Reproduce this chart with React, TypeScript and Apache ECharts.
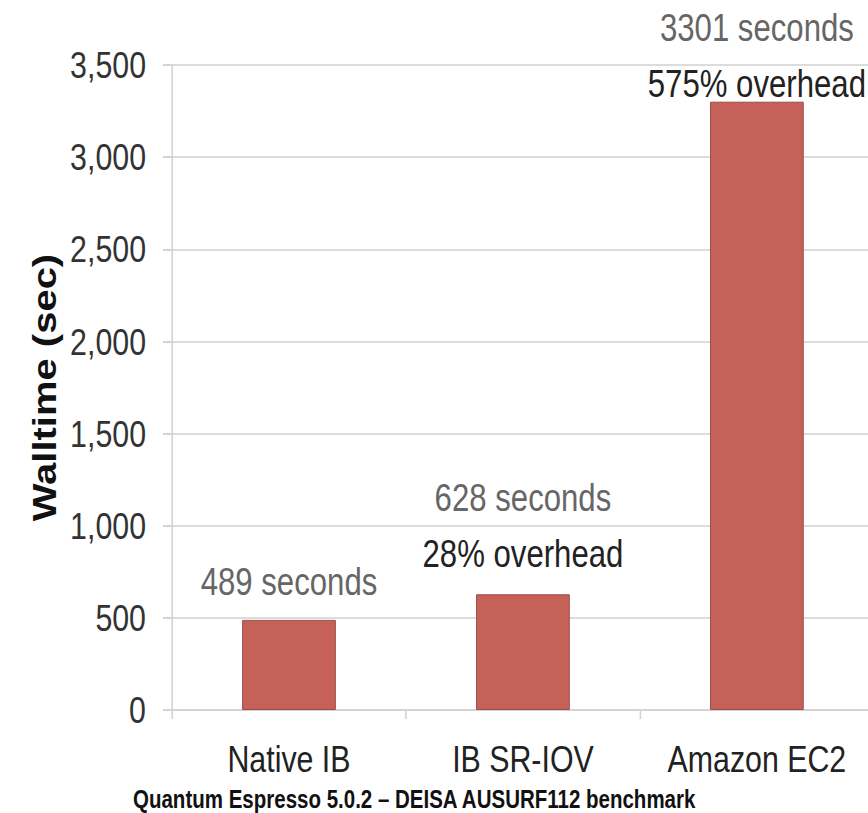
import React, { useEffect, useRef } from "react";
import * as echarts from "echarts";

const categories = ["Native IB", "IB SR-IOV", "Amazon EC2"];
const walltimes = [489, 628, 3301];
const secondsLabels = ["489 seconds", "628 seconds", "3301 seconds"];
const overheadLabels = ["", "28% overhead", "575% overhead"];
const yTicks = [0, 500, 1000, 1500, 2000, 2500, 3000, 3500];
const caption = "Quantum Espresso 5.0.2 \u2013 DEISA AUSURF112 benchmark";

const FONT = '"Liberation Sans", Arial, Helvetica, sans-serif';
// the reference is horizontally condensed; the chart is drawn wider and squeezed with CSS
const SX = 0.82;
const u = (px: number) => px / SX;

export default function App() {
  const ref = useRef<HTMLDivElement>(null);
  useEffect(() => {
    if (!ref.current) return;
    const chart = echarts.init(ref.current, undefined, { renderer: "svg" });
    const labelDistances = [10, 12, -10];
    const data = walltimes.map((v, i) => ({
      value: v,
      label: {
        distance: labelDistances[i],
        formatter: overheadLabels[i]
          ? `{s|${secondsLabels[i]}}\n{o|${overheadLabels[i]}}`
          : `{s|${secondsLabels[i]}}`,
      },
    }));
    chart.setOption({
      animation: false,
      backgroundColor: "#ffffff",
      grid: { left: u(172), right: u(6), top: 65, bottom: 103, containLabel: false },
      xAxis: {
        type: "category",
        data: categories,
        axisLine: { show: true, lineStyle: { color: "#d4d4d4", width: 2 } },
        axisTick: { show: true, length: 9, lineStyle: { color: "#d4d4d4", width: 2 } },
        axisLabel: {
          interval: 0,
          fontFamily: FONT,
          fontSize: 37,
          color: "#222222",
          margin: 30,
        },
      },
      yAxis: {
        type: "value",
        min: yTicks[0],
        max: yTicks[yTicks.length - 1],
        interval: yTicks[1] - yTicks[0],
        name: "Walltime (sec)",
        nameLocation: "middle",
        nameRotate: 90,
        nameGap: 114,
        nameTextStyle: {
          fontFamily: FONT,
          fontWeight: "bold",
          fontSize: 40,
          color: "#111111",
        },
        axisLine: { show: true, lineStyle: { color: "#d4d4d4", width: 2 } },
        axisTick: { show: true, length: u(9), lineStyle: { color: "#d4d4d4", width: 2 } },
        splitLine: { show: true, lineStyle: { color: "#dcdcdc", width: 2 } },
        axisLabel: {
          fontFamily: FONT,
          fontSize: 37,
          color: "#333333",
          margin: u(26),
          formatter: (v: number) => v.toLocaleString("en-US"),
        },
      },
      series: [
        {
          type: "bar",
          data,
          barWidth: "40%",
          itemStyle: { color: "#c6615a", borderColor: "#94433e", borderWidth: 1 },
          label: {
            show: true,
            position: "top",
            rich: {
              s: { fontFamily: FONT, fontSize: 38, color: "#666666", lineHeight: 56 },
              o: { fontFamily: FONT, fontSize: 38, color: "#222222", lineHeight: 56 },
            },
          },
        },
      ],
      graphic: [
        {
          type: "text",
          x: u(133),
          y: 799,
          style: {
            text: caption,
            fontFamily: FONT,
            fontWeight: "bold",
            fontSize: 25,
            fill: "#111111",
            align: "left",
            verticalAlign: "middle",
          },
        },
      ],
    });
    return () => chart.dispose();
  }, []);
  return (
    <div style={{ position: "fixed", left: 0, top: 0, width: 868, height: 813, overflow: "hidden", background: "#fff" }}>
      <div
        ref={ref}
        style={{ width: u(880), height: 813, transform: `scale(${SX}, 1)`, transformOrigin: "0 0" }}
      />
    </div>
  );
}
